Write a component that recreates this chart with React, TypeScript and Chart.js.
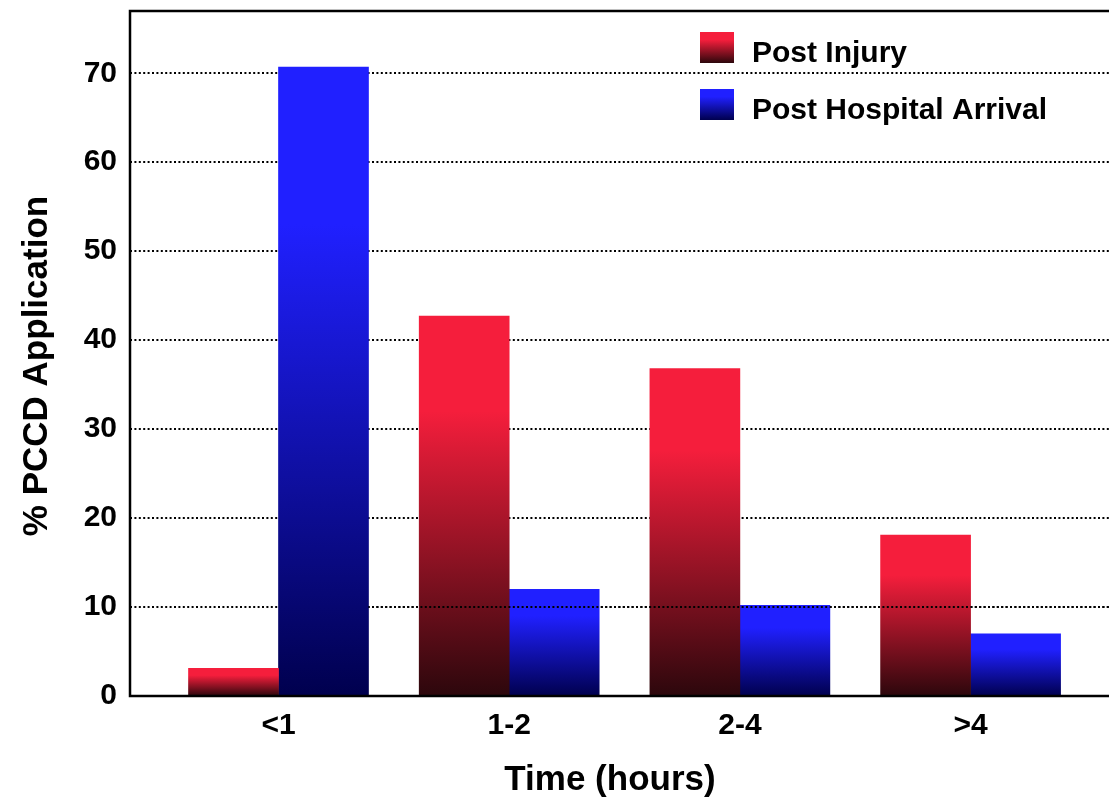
import React, { useEffect, useRef } from "react";
import { Chart, registerables } from "chart.js";

Chart.register(...registerables);

// ---- data ----
const categories = ["<1", "1-2", "2-4", ">4"];
const seriesNames = ["Post Injury", "Post Hospital Arrival"];
const postInjury = [3.1, 42.7, 36.8, 18.1];
const postHospitalArrival = [70.7, 12.0, 10.2, 7.0];
const yTickValues = [0, 10, 20, 30, 40, 50, 60, 70];
const yMax = 77;
const xTitle = "Time (hours)";
const yTitle = "% PCCD Application";

// ---- styles ----
const FONT = "'Liberation Sans', Arial, Helvetica, sans-serif";
const RED = ["#f51e3c", "#2c070c"];
const BLUE = ["#2020ff", "#00004e"];
const SERIES_COLORS = [RED, BLUE];
const DASH = [2, 2.4];

function makeGradient(ctx: CanvasRenderingContext2D, y0: number, y1: number, c: string[]) {
  const g = ctx.createLinearGradient(0, y0, 0, y1);
  g.addColorStop(0, c[0]);
  g.addColorStop(0.25, c[0]);
  g.addColorStop(1, c[1]);
  return g;
}

function barColor(values: number[], colors: string[]) {
  return (c: any) => {
    const chart = c.chart;
    const ys = chart.scales && chart.scales.y;
    if (!ys || !chart.chartArea || c.type !== "data") return colors[0];
    const v = values[c.dataIndex];
    return makeGradient(chart.ctx, ys.getPixelForValue(v), ys.getPixelForValue(0), colors);
  };
}

const decorPlugin = {
  id: "decor",
  afterDatasetsDraw(chart: any) {
    const { ctx, chartArea: a, scales } = chart;
    // gridline at 10 drawn over the bars (right of the first group)
    const el = chart.getDatasetMeta(1).data[0];
    const x0 = el.x + el.width / 2;
    const y10 = Math.round(scales.y.getPixelForValue(yTickValues[1]));
    ctx.save();
    ctx.strokeStyle = "#000";
    ctx.lineWidth = 2;
    ctx.setLineDash(DASH);
    ctx.lineDashOffset = x0 - a.left;
    ctx.beginPath();
    ctx.moveTo(x0, y10);
    ctx.lineTo(a.right, y10);
    ctx.stroke();
    ctx.restore();
    // frame
    ctx.save();
    ctx.strokeStyle = "#000";
    ctx.lineWidth = 2.5;
    ctx.strokeRect(a.left, a.top, a.right - a.left, a.bottom - a.top);
    ctx.restore();
  },
  afterDraw(chart: any) {
    const { ctx } = chart;
    ctx.save();
    // legend
    const boxX = 700, boxW = 34, boxH = 31;
    const boxYs = [32, 89];
    seriesNames.forEach((name, i) => {
      const y = boxYs[i];
      ctx.fillStyle = makeGradient(ctx, y, y + boxH, SERIES_COLORS[i]);
      ctx.fillRect(boxX, y, boxW, boxH);
      ctx.fillStyle = "#000";
      ctx.font = `bold 30px ${FONT}`;
      ctx.textAlign = "left";
      ctx.textBaseline = "alphabetic";
      ctx.fillText(name, 752, y + boxH - 1);
    });
    // x title
    ctx.font = `bold 35px ${FONT}`;
    ctx.textAlign = "center";
    ctx.textBaseline = "alphabetic";
    ctx.fillText(xTitle, 610, 790);
    // y title
    ctx.translate(47, 366);
    ctx.rotate(-Math.PI / 2);
    ctx.fillText(yTitle, 0, 0);
    ctx.restore();
  },
};

export default function App() {
  const ref = useRef<HTMLCanvasElement>(null);
  useEffect(() => {
    document.body.style.margin = "0";
    const chart = new Chart(ref.current as HTMLCanvasElement, {
      type: "bar",
      data: {
        datasets: [
          {
            label: seriesNames[0],
            data: postInjury.map((v, i) => ({ x: i, y: v })),
            backgroundColor: barColor(postInjury, RED),
            borderWidth: 0,
            barThickness: 90,
          },
          {
            label: seriesNames[1],
            data: postHospitalArrival.map((v, i) => ({ x: i, y: v })),
            backgroundColor: barColor(postHospitalArrival, BLUE),
            borderWidth: 0,
            barThickness: 90,
          },
        ],
      },
      options: {
        responsive: false,
        animation: false,
        devicePixelRatio: 1,
        layout: { padding: { top: 11, right: 2, left: 0, bottom: 0 } },
        plugins: { legend: { display: false }, title: { display: false }, tooltip: { enabled: false } },
        scales: {
          x: {
            type: "linear",
            offset: false,
            min: -0.6437,
            max: 3.639,
            grid: { display: false, offset: false },
            border: { display: false },
            afterBuildTicks: (s: any) => {
              s.ticks = categories.map((_, i) => ({ value: i }));
            },
            afterFit: (s: any) => {
              s.height = 103;
              s.paddingLeft = 0;
              s.paddingRight = 0;
            },
            ticks: {
              stepSize: 1,
              includeBounds: false,
              autoSkip: false,
              maxRotation: 0,
              padding: 4,
              color: "#000",
              font: { family: FONT, size: 30, weight: "bold" },
              callback: (v: any) => categories[v] ?? "",
            },
          },
          y: {
            min: 0,
            max: yMax,
            afterBuildTicks: (s: any) => {
              s.ticks = yTickValues.map((v) => ({ value: v }));
            },
            afterFit: (s: any) => {
              s.width = 130;
              s.paddingTop = 0;
              s.paddingBottom = 0;
            },
            grid: { color: "#000", lineWidth: 2, drawTicks: false },
            border: { display: false, dash: DASH },
            ticks: {
              stepSize: 10,
              includeBounds: false,
              padding: 13,
              color: "#000",
              font: { family: FONT, size: 30, weight: "bold" },
            },
          },
        },
      },
      plugins: [decorPlugin],
    } as any);
    return () => chart.destroy();
  }, []);
  return (
    <div style={{ width: 1109, height: 799, overflow: "hidden", position: "relative", background: "#fff" }}>
      <canvas ref={ref} width={1120} height={799} style={{ display: "block", width: 1120, height: 799 }} />
    </div>
  );
}
